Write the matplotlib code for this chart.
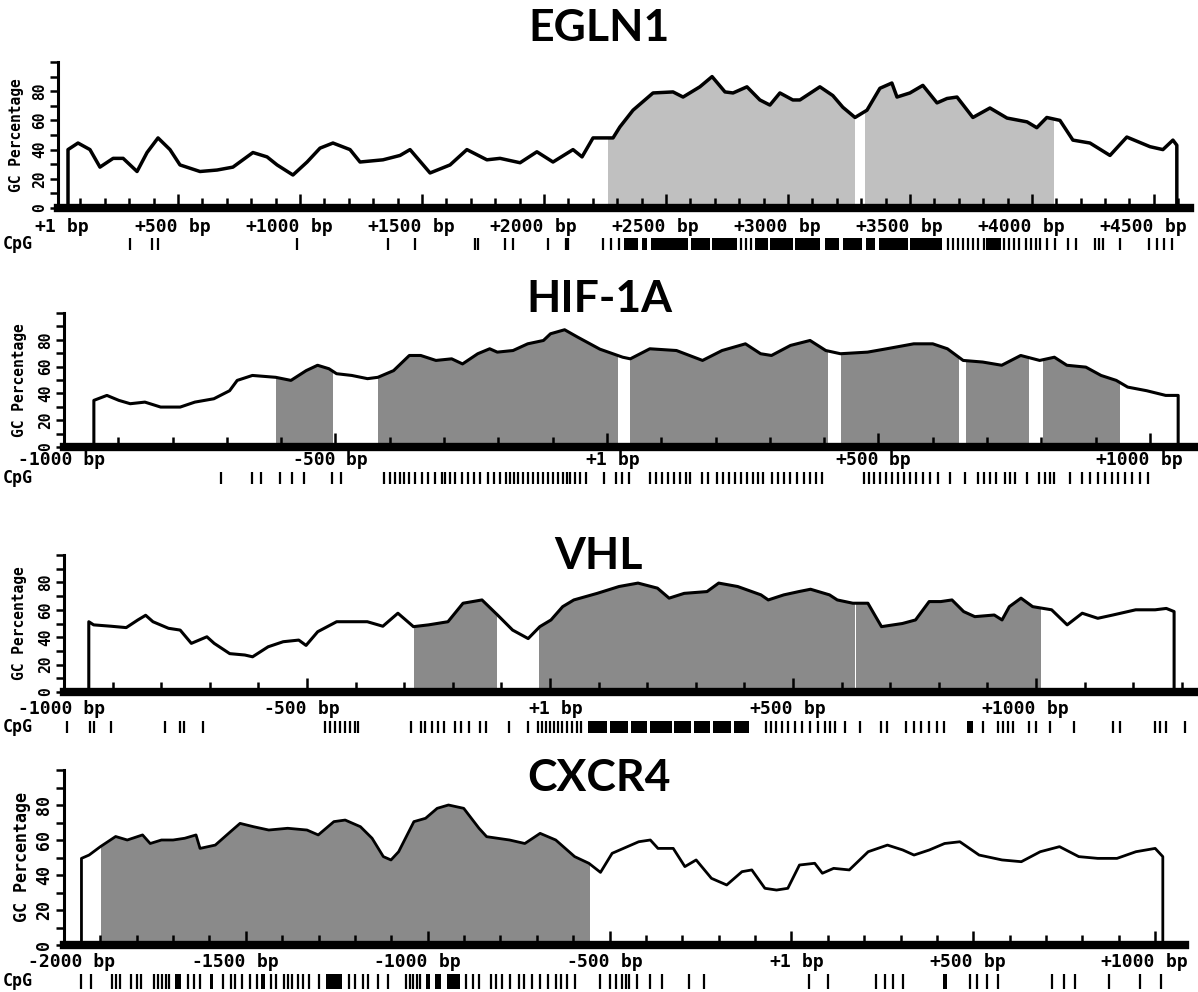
import numpy as np
import matplotlib.pyplot as plt
from matplotlib.patches import Rectangle

W, H = 1198, 992
MONO = 'DejaVu Sans Mono'

# ---------------- EGLN1 ----------------
egln1_pos = [49, 90, 139, 180, 234, 275, 332, 373, 418, 467, 508, 590, 660, 725, 807,
             865, 906, 971, 1029, 1082, 1135, 1205, 1246, 1340, 1410, 1451, 1533, 1615,
             1684, 1766, 1820, 1902, 1971, 2037, 2119, 2156, 2201, 2283, 2311, 2365, 2447,
             2529, 2570, 2639, 2689, 2742, 2775, 2832, 2885, 2926, 2967, 3020, 3049, 3131,
             3184, 3225, 3275, 3324, 3377, 3426, 3447, 3500, 3553, 3611, 3652, 3693, 3758,
             3828, 3898, 3980, 4020, 4061, 4115, 4168, 4238, 4320, 4389, 4484, 4537, 4578, 4594]
egln1_gc = [40, 44.5, 40, 28, 34, 34, 25, 38, 48, 40, 29.5, 25, 26, 28, 38,
            35, 29.5, 22.6, 31.5, 41, 44.5, 40, 31.5, 33, 36, 40, 24, 29.5,
            40, 33, 34, 31, 38.5, 31.5, 40, 35, 48, 48, 55.5, 67, 78.8,
            79.5, 76, 83, 90, 79.5, 78.8, 83, 74, 70.5, 78.8, 74, 74, 83,
            77, 69, 62, 67, 82, 85.6, 76, 78.8, 84, 72, 75, 76, 62,
            68.5, 61.6, 59, 55, 62, 60, 46.5, 44.5, 36, 48.6, 42, 40, 46.5, 43]
egln1_islands = [(2262, 3270), (3316, 4086)]
egln1_cpg = [303, 393, 418, 988, 1361, 1471, 1717, 1730, 1840, 1873, 2016, 2090, 2098,
             2242, 2275, 2307, 2807, 2828, 2848, 3656, 3676, 3697, 3717, 3738, 3758, 3779,
             3803, 3885, 3906, 3926, 3947, 3975, 3996, 4016, 4033, 4061, 4094, 4148, 4180,
             4258, 4275, 4291, 4361, 4480, 4512, 4541, 4574]
egln1_runs = [(2328, 2385), (2402, 2422), (2439, 2590), (2602, 2680), (2689, 2791),
              (2865, 2918), (2926, 3020), (3030, 3131), (3152, 3209), (3225, 3303),
              (3320, 3357), (3373, 3492), (3500, 3631), (3811, 3873)]
egln1_ticks = [(1, '+1'), (500, '+500'), (1000, '+1000'), (1500, '+1500'), (2000, '+2000'),
               (2500, '+2500'), (3000, '+3000'), (3500, '+3500'), (4000, '+4000'),
               (4500, '+4500')]

# ---------------- HIF-1A ----------------
hif_pos = [-945, -921, -899, -878, -851, -822, -786, -759, -724, -695, -681, -653, -610,
           -582, -554, -533, -512, -498, -470, -441, -422, -393, -364, -343, -315, -286,
           -266, -238, -216, -202, -173, -146, -117, -104, -78, -54, -13, 29, 43, 79, 128,
           176, 212, 255, 283, 303, 338, 374, 403, 430, 480, 515, 565, 600, 627, 656, 692,
           727, 762, 797, 824, 847, 882, 910, 938, 959, 994, 1029, 1052]
hif_gc = [34.8, 38.5, 34.8, 32.3, 33.5, 29.8, 29.8, 33.5, 36, 42, 49.7, 53.4, 52,
          49.7, 57, 61, 58.4, 54.7, 53.4, 51, 52, 57, 68.3, 68.3, 64.6, 65.8,
          62, 69.6, 73.3, 70.8, 72, 77, 79.5, 84.5, 87.5, 82, 73, 67, 65.8, 73.3, 72,
          64.6, 72, 77, 69.6, 68.3, 75.8, 79.5, 72, 69.6, 70.8, 73.3, 77, 77, 73.3, 64.6, 63.4,
          61, 68.3, 64.6, 67, 61, 59.6, 53.4, 49.7, 44.7, 42, 38.5, 38.5]
hif_islands = [(-610, -506), (-422, 18), (43, 405), (431, 646), (661, 775), (803, 943)]
hif_cpg = [-711, -654, -637, -602, -580, -558, -506, -490, -411, -400, -390, -381, -374,
           -365, -354, -341, -330, -317, -304, -298, -289, -280, -267, -256, -245, -234,
           -219, -208, -197, -186, -179, -171, -164, -155, -145, -136, -127, -118, -109,
           -99, -90, -81, -74, -68, -59, -50, -39, -6, 17, 28, 41, 79, 90, 101, 112, 123,
           134, 145, 153, 175, 186, 203, 214, 225, 236, 247, 258, 269, 278, 287, 304, 315,
           326, 337, 350, 363, 374, 385, 396, 473, 483, 492, 503, 514, 525, 536, 547, 558,
           569, 582, 595, 610, 632, 659, 683, 694, 705, 716, 733, 742, 751, 773, 796, 807,
           816, 823, 853, 875, 889, 904, 917, 930, 941, 954, 967, 981, 996]
hif_runs = []
hif_ticks = [(-1000, '-1000'), (-500, '-500'), (0, '+1'), (500, '+500'), (1000, '+1000')]

# ---------------- VHL ----------------
vhl_pos = [-949, -939, -903, -872, -848, -832, -817, -785, -761, -738, -706, -691, -659,
           -628, -612, -580, -549, -517, -502, -478, -439, -407, -376, -344, -313, -281,
           -250, -210, -179, -140, -108, -77, -45, -21, 2, 26, 49, 97, 142, 181, 221, 245,
           276, 323, 347, 386, 434, 449, 481, 512, 536, 575, 591, 623, 654, 670, 682, 725,
           752, 780, 804, 827, 851, 874, 914, 930, 945, 969, 993, 1032, 1064, 1095, 1127,
           1158, 1205, 1245, 1268, 1284]
vhl_gc = [51.3, 49, 48, 47, 52.6, 56, 51.3, 46.5, 45.2, 35.5, 40.3, 35.5, 28,
          27, 25.7, 33, 36.7, 37.9, 34, 44, 51.3, 51.3, 51.3, 48, 57.5, 47.7,
          49, 51.3, 64.8, 67.2, 56.2, 45.2, 39, 47.7, 52.6, 62.3, 67.2, 72, 77, 79.5, 75.8, 68.5,
          72, 73.3, 79.5, 77, 70.9, 67.2, 70.9, 73.3, 75, 70.9, 67.2, 64.8, 64.8, 55, 47.7, 50,
          52.6, 66, 66, 67.2, 58.7, 55, 56.2, 52.6, 62.3, 68.5, 62.3, 60, 49, 57.5, 53.8,
          56.2, 60, 60, 61, 58.7]
vhl_islands = [(-280, -112), (-23, 625), (630, 1008)]
vhl_cpg = [-994, -947, -938, -903, -792, -761, -753, -714, -463, -453, -442, -432, -422,
           -412, -401, -395, -286, -265, -257, -243, -230, -218, -195, -183, -167, -144,
           -132, -84, -45, -25, -17, -8, 0, 8, 16, 25, 35, 45, 55, 64, 444, 455, 465, 477,
           490, 504, 519, 535, 552, 566, 576, 586, 607, 638, 681, 693, 733, 749, 763, 780,
           796, 811, 891, 922, 932, 942, 953, 986, 1000, 1029, 1078, 1158, 1173, 1245,
           1255, 1267, 1307]
vhl_runs = [(78, 118), (124, 160), (166, 200), (206, 250), (256, 290), (296, 330),
            (336, 372), (378, 410), (858, 870)]
vhl_ticks = [(-1000, '-1000'), (-500, '-500'), (0, '+1'), (500, '+500'), (1000, '+1000')]

# ---------------- CXCR4 ----------------
cx_pos = [-1952, -1931, -1900, -1858, -1826, -1784, -1763, -1732, -1700, -1668, -1637,
          -1626, -1584, -1542, -1516, -1479, -1437, -1385, -1332, -1301, -1258, -1227,
          -1185, -1153, -1122, -1101, -1080, -1038, -1006, -974, -943, -901, -859, -838,
          -775, -733, -691, -648, -596, -557, -525, -493, -462, -420, -388, -367, -325,
          -293, -262, -220, -178, -136, -109, -73, -41, -10, 22, 64, 85, 116, 159, 211,
          264, 306, 337, 379, 421, 463, 516, 579, 632, 684, 737, 790, 842, 895, 947,
          1000, 1021]
cx_gc = [49.5, 51.4, 56.2, 62, 60, 62.9, 58, 60, 60, 61, 62.9,
         55.2, 57.1, 64.8, 69.5, 67.6, 65.7, 66.7, 65.7, 62.9, 70.5, 71.4,
         67.6, 61, 50.5, 48.6, 53.3, 70.5, 72.4, 78.1, 80, 78.1, 66.7, 61.9,
         60, 58, 63.8, 60, 50.5, 46.7, 41.5, 52.4, 55.2, 59, 60, 55.2, 55.2,
         44.8, 48.6, 38.1, 34.3, 41.9, 42.9, 32.4, 31.4, 32.4, 45.7, 46.7, 41, 43.8, 42.9, 53.3,
         57.1, 54.3, 51.4, 54.3, 58, 59, 51.4, 48.6, 47.6, 53.3, 56.2, 50.5, 49.5, 49.5, 53.3,
         55.2, 50.5]
cx_islands = [(-1898, -557)]
cx_cpg = [-1953, -1926, -1868, -1857, -1846, -1816, -1799, -1788, -1753, -1742, -1731,
          -1720, -1712, -1658, -1643, -1626, -1563, -1541, -1530, -1511, -1489, -1470,
          -1431, -1416, -1396, -1385, -1374, -1357, -1343, -1327, -1299, -1217, -1201,
          -1179, -1165, -1137, -1110, -1059, -1050, -1040, -1030, -1022, -896, -875, -860,
          -827, -812, -797, -775, -749, -734, -712, -691, -670, -648, -633, -618, -596,
          -525, -498, -483, -467, -456, -446, -425, -388, -357, -283, -241, 48, 101, 232,
          258, 280, 306, 490, 511, 537, 569, 716, 749, 780, 874, 958, 1015]
cx_runs = [(-1695, -1679), (-1599, -1591), (-1459, -1448), (-1280, -1237), (-1005, -995),
           (-979, -964), (-948, -912), (416, 427)]
cx_ticks = [(-2000, '-2000'), (-1500, '-1500'), (-1000, '-1000'), (-500, '-500'),
            (0, '+1'), (500, '+500'), (1000, '+1000')]


fig = plt.figure(figsize=(W / 100, H / 100), dpi=100)


def panel(title, title_y, box, xlim, pos, gc, islands, shade, cpg, runs, ticks,
          lab_y, cpg_y, cpg_h, ylab_x, yfs, lw, first_px=None):
    left, right, y0, y100 = box
    ax = fig.add_axes([left / W, 1 - y0 / H, (right - left) / W, (y0 - y100) / H])
    ax.set_xlim(*xlim)
    ax.set_ylim(0, 100)
    per = (y0 - y100) / 100.0

    for a, b in islands:
        poly = ax.fill_between(pos, gc, 0, color=shade, lw=0, zorder=1)
        poly.set_clip_path(Rectangle((a, 0), b - a, 100, transform=ax.transData))
    ax.plot([pos[0]] + pos + [pos[-1]], [0] + gc + [0], color='black', lw=lw, zorder=3)

    for s in ['top', 'right']:
        ax.spines[s].set_visible(False)
    ax.spines['bottom'].set_linewidth(6)
    ax.spines['left'].set_linewidth(2.2)
    ax.spines['bottom'].set_zorder(4)

    ax.set_xticks([t for t, _ in ticks if xlim[0] < t < xlim[1]])
    ax.set_xticks([t for t in range(-3000, 5000, 100) if xlim[0] < t < xlim[1]], minor=True)
    ax.tick_params(axis='x', which='both', direction='in', labelbottom=False, width=1.8)
    ax.tick_params(axis='x', which='major', length=10)
    ax.tick_params(axis='x', which='minor', length=7)

    yt = list(range(0, 101, 10))
    ax.set_yticks(yt)
    ax.set_yticklabels([str(v) if v % 20 == 0 and v < 100 else '' for v in yt],
                       rotation=90, va='center', fontfamily=MONO, fontweight='bold',
                       fontsize=yfs)
    ax.tick_params(axis='y', direction='out', length=6, width=1.8, pad=2)

    ly = (y0 - lab_y) / per
    tfont = dict(fontfamily=MONO, fontweight='bold', fontsize=13, va='center')
    for i, (t, s) in enumerate(ticks):
        if i == 0 and first_px is not None:
            fig.text(first_px / W, 1 - lab_y / H, s + ' bp', ha='left', **tfont)
            continue
        ax.text(t, ly, s, ha='right', **tfont)
        ax.text(t, ly, ' bp', ha='left', **tfont)

    cy = (y0 - cpg_y) / per
    hh = cpg_h / per / 2
    ax.vlines(cpg, cy - hh, cy + hh, colors='black', lw=1.6, clip_on=False)
    if runs:
        ax.broken_barh([(a, b - a) for a, b in runs], (cy - hh, 2 * hh),
                       facecolors='black', clip_on=False)
    fig.text(3 / W, 1 - cpg_y / H, 'CpG', ha='left', va='center', fontfamily=MONO,
             fontweight='bold', fontsize=12)

    fig.text(ylab_x / W, 1 - ((y0 + y100) / 2) / H, 'GC Percentage', rotation=90,
             ha='center', va='center', fontfamily=MONO, fontweight='bold',
             fontsize=yfs)
    fig.text(0.5, 1 - title_y / H, title, ha='center', va='center', fontfamily='Lato',
             fontweight='bold', fontsize=32)
    return ax


panel('EGLN1', 28, (58, 1190, 208, 62), (8, 4648), egln1_pos, egln1_gc, egln1_islands,
      '#c0c0c0', egln1_cpg, egln1_runs, egln1_ticks, 227, 244, 12, 17, 10.5, 2.5)
panel('HIF-1A', 299, (64, 1195, 447, 313), (-1000, 1083), hif_pos, hif_gc, hif_islands,
      '#8a8a8a', hif_cpg, hif_runs, hif_ticks, 460, 478, 12, 20, 10.5, 2.2, first_px=18)
panel('VHL', 556, (64, 1195, 692, 555), (-1000, 1327), vhl_pos, vhl_gc, vhl_islands,
      '#8a8a8a', vhl_cpg, vhl_runs, vhl_ticks, 709, 727, 12, 20, 10.5, 2.2, first_px=18)
panel('CXCR4', 778, (64, 1185, 945, 770), (-2000, 1082), cx_pos, cx_gc, cx_islands,
      '#8a8a8a', cx_cpg, cx_runs, cx_ticks, 962, 981, 15, 22, 12, 2.0, first_px=28)

fig.savefig('out.png', dpi=100, facecolor='white')
